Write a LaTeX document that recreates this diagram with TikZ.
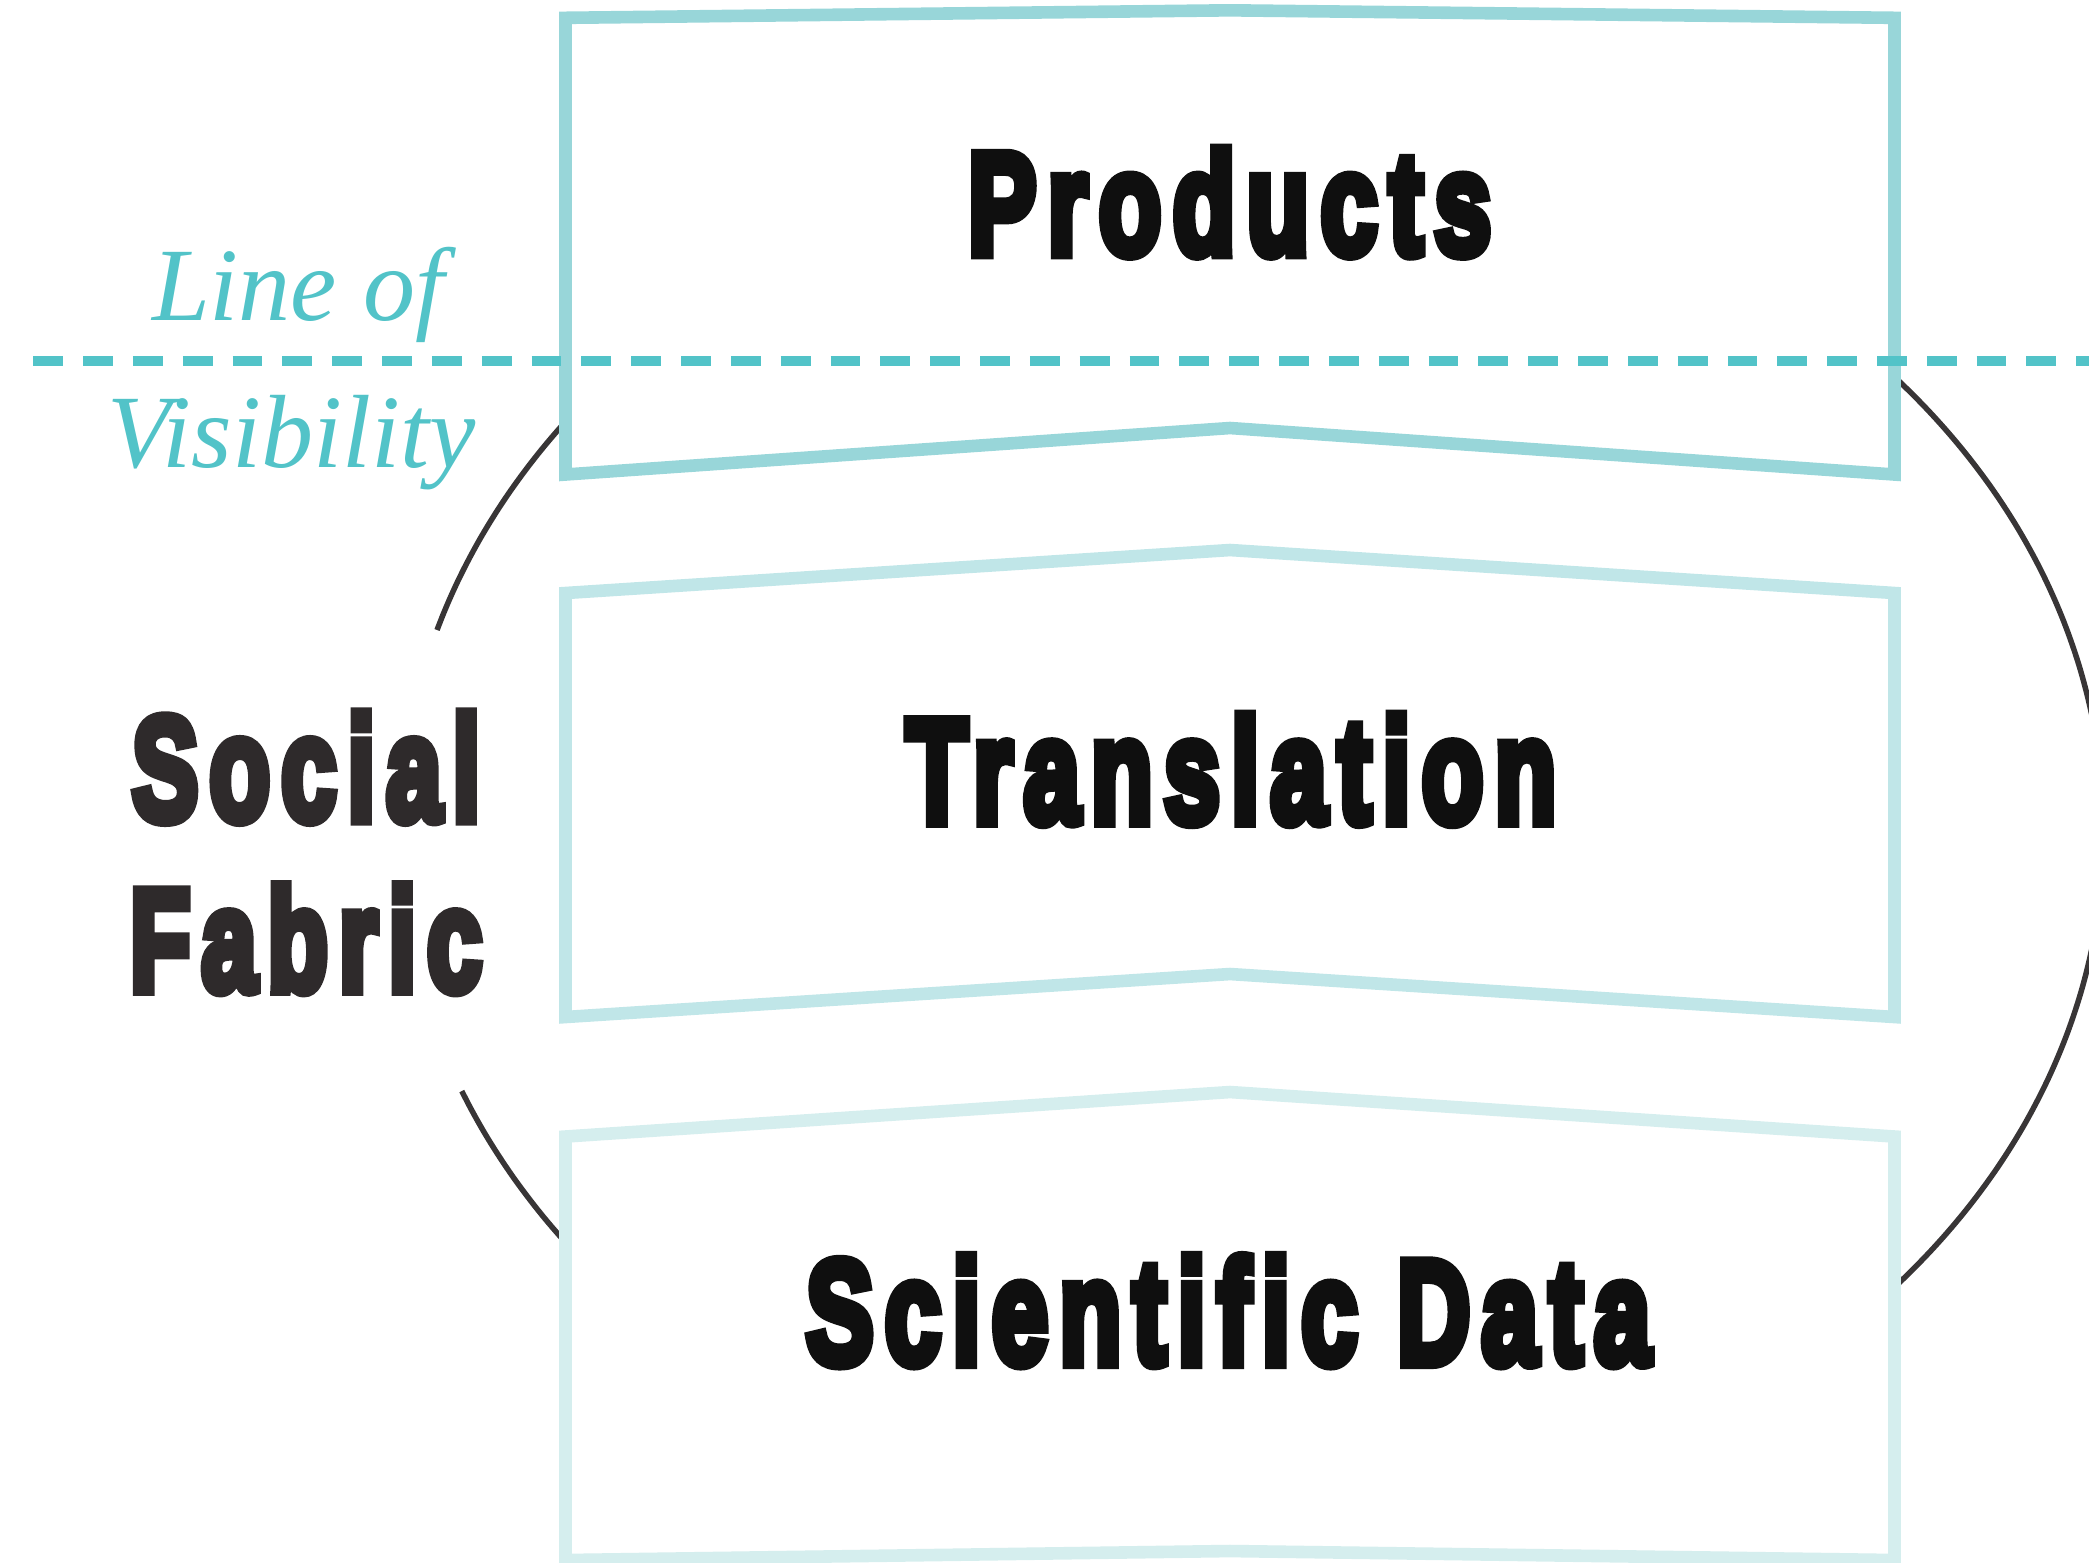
\documentclass[tikz,border=0pt]{standalone}
\usepackage{fontspec}
\usepackage{graphicx}
\newfontfamily\heavyfont{Liberation Sans Bold}[FakeBold=7.5, LetterSpace=11]
\newfontfamily\visifont{Liberation Serif Italic}
\definecolor{tealline}{HTML}{52C3C8}
\definecolor{tierone}{HTML}{98D6D9}
\definecolor{tiertwo}{HTML}{C0E6E8}
\definecolor{tierthree}{HTML}{D5EEEE}
\definecolor{inkdark}{HTML}{0F0F0F}
\definecolor{inkwarm}{HTML}{2E2A2B}
\definecolor{loopgray}{HTML}{383536}
\begin{document}
\begin{tikzpicture}[x=0.01cm, y=-0.01cm,
  layerbox/.style={line width=0.126cm, fill=white, line join=miter},
  heavylabel/.style={inner sep=0pt, outer sep=0pt, anchor=base west, text=inkdark},
  sidelabel/.style={inner sep=0pt, outer sep=0pt, anchor=base west, text=inkwarm},
  visilabel/.style={inner sep=0pt, outer sep=0pt, anchor=base west, text=tealline,
    font=\visifont\fontsize{29.6pt}{30pt}\selectfont},
  visiline/.style={draw=tealline, line width=0.098cm, dash pattern=on 0.298cm off 0.2cm},
  loop/.style={draw=loopgray, line width=0.055cm}]
\useasboundingbox (0,0) rectangle (2089,1562);
\clip (0,0) rectangle (2089,1562);

% social fabric loop, open on the left where its label sits
\draw[loop] plot[domain=196.95:518.05, samples=240, smooth]
  ({1252+852*cos(\x)},{832+693*sin(\x)});

% the three tiers
\draw[layerbox, draw=tierthree] (565.5,1136.5) -- (1230,1092) -- (1894.5,1136.5)
  -- (1894.5,1560) -- (1230,1551) -- (565.5,1560) -- cycle;
\draw[layerbox, draw=tiertwo] (565.5,593) -- (1230,550) -- (1894.5,593)
  -- (1894.5,1017) -- (1230,974) -- (565.5,1017) -- cycle;
\draw[layerbox, draw=tierone] (565.5,17.8) -- (1230,10.3) -- (1894.5,17.8)
  -- (1894.5,474.5) -- (1230,428) -- (565.5,474.5) -- cycle;

% line of visibility
\coordinate (visL) at (33.3,361);
\coordinate (visR) at (2089,361);
\draw[visiline] (visL) -- (visR);

% labels (boxes sized a little inside the inked extent, the outline stroke adds the rest)
\node[heavylabel] (products) at (968,254)
  {\resizebox{5.23cm}{1.05cm}{\heavyfont Products}};
\node[heavylabel] (translation) at (906,822.2)
  {\resizebox{6.50cm}{1.07cm}{\heavyfont Translation}};
\node[heavylabel] (scidata) at (806,1363.5)
  {\resizebox{8.44cm}{1.07cm}{\heavyfont Scientific Data}};
\node[sidelabel] (social) at (132,820)
  {\resizebox{3.48cm}{1.07cm}{\heavyfont Social}};
\node[sidelabel] (fabric) at (130,990.5)
  {\resizebox{3.52cm}{1.05cm}{\heavyfont Fabric}};
\node[visilabel] (lineof) at (152,320) {Line of};
\node[visilabel] (visibility) at (107,467) {Visibility};
\end{tikzpicture}
\end{document}
